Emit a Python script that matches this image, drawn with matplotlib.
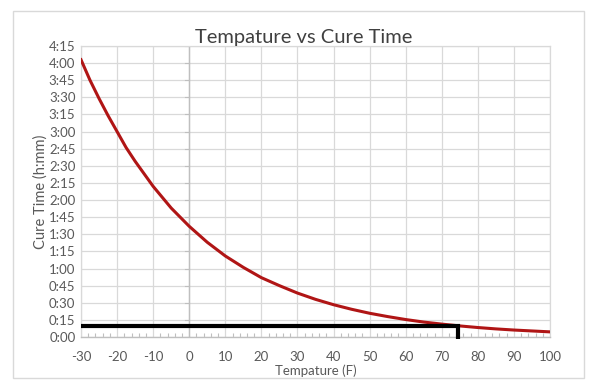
import matplotlib.pyplot as plt
from matplotlib.patches import Rectangle
from matplotlib.ticker import MultipleLocator, FuncFormatter

# Data (cure time in minutes)
temps = [-30, -27.5, -25, -22.5, -20, -17.5, -15, -12.5, -10, -5, 0, 5, 10, 15, 20, 25,
         30, 35, 40, 45, 50, 55, 60, 65, 70, 75, 80, 85, 90, 95, 100]
cure_min = [243, 225, 209, 194, 180, 166, 154, 143, 132, 113, 97, 83, 71, 61, 52, 45,
            38.5, 33, 28.3, 24.3, 20.8, 17.9, 15.3, 13.1, 11.3, 9.7, 8.3, 7.1, 6.1, 5.3, 4.5]

# Marker lines: chosen temperature and its cure time
mark_temp = 74.5
mark_min = 10

title = "Tempature vs Cure Time"
xlabel = "Tempature (F)"
ylabel = "Cure Time (h:mm)"

plt.rcParams['font.family'] = ['Lato', 'DejaVu Sans']
plt.rcParams['axes.unicode_minus'] = False

fig = plt.figure(figsize=(6.14, 3.91), dpi=100)
# outer chart border
fig.patches.append(Rectangle((13 / 614, 1 - 378 / 391), (584 - 13) / 614, (378 - 11) / 391,
                             transform=fig.transFigure, fill=False,
                             edgecolor='#D9D9D9', linewidth=1))

ax = fig.add_axes([81 / 614, 1 - 337 / 391, (550 - 81) / 614, (337 - 46) / 391])

grid_c = '#D9D9D9'
text_c = '#595959'

ax.set_xlim(-30, 100)
ax.set_ylim(0, 255)
ax.xaxis.set_major_locator(MultipleLocator(10))
ax.xaxis.set_minor_locator(MultipleLocator(2))
ax.yaxis.set_major_locator(MultipleLocator(15))
ax.yaxis.set_major_formatter(FuncFormatter(lambda v, p: f"{int(v) // 60}:{int(v) % 60:02d}"))

ax.grid(True, which='major', color=grid_c, linewidth=0.9)
ax.set_axisbelow(True)

for s in ['top', 'right', 'left']:
    ax.spines[s].set_color(grid_c)
    ax.spines[s].set_linewidth(0.9)
ax.spines['bottom'].set_color('#BFBFBF')
ax.spines['bottom'].set_linewidth(1)

ax.tick_params(axis='x', which='major', length=0, pad=10, labelsize=9.5, labelcolor=text_c)
ax.tick_params(axis='x', which='minor', direction='in', length=3, color='#BFBFBF', width=0.8)
ax.tick_params(axis='y', length=0, pad=4, labelsize=9.5, labelcolor=text_c)

# vertical axis line at x = 0 with small ticks
ax.axvline(0, color='#BFBFBF', linewidth=1, zorder=1)
for v in range(0, 256, 15):
    ax.plot([-1.1, 0], [v, v], color='#BFBFBF', linewidth=0.8, zorder=1)

ax.plot(temps, cure_min, color='#B01515', linewidth=2.2, zorder=3)

ax.plot([-30, mark_temp, mark_temp], [mark_min, mark_min, -1.5], color='black',
        linewidth=3, solid_capstyle='butt', solid_joinstyle='miter', zorder=4, clip_on=False)

fig.text(304 / 614, 1 - 38 / 391, title, fontsize=14.5, color='#404040',
         ha='center', va='center')
ax.set_xlabel(xlabel, fontsize=9.5, color=text_c, labelpad=1)
ax.set_ylabel(ylabel, fontsize=10.5, color=text_c, labelpad=1)

fig.savefig('out.png', dpi=100)
